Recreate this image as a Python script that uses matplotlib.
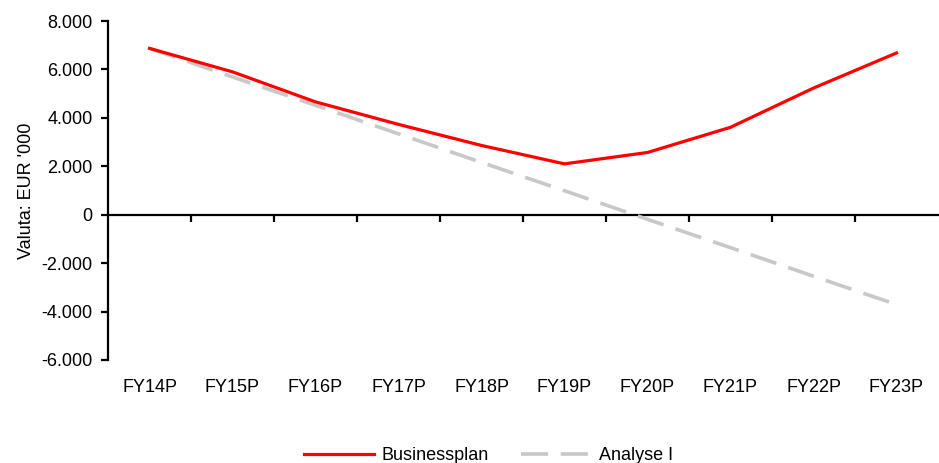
import numpy as np
import matplotlib.pyplot as plt
from matplotlib.ticker import FuncFormatter, FixedLocator

# Data (EUR '000)
years = ['FY14P', 'FY15P', 'FY16P', 'FY17P', 'FY18P',
         'FY19P', 'FY20P', 'FY21P', 'FY22P', 'FY23P']
businessplan = [6870, 5900, 4660, 3730, 2860, 2100, 2570, 3610, 5230, 6680]
analyse_1 = [6870, 5690, 4520, 3340, 2160, 990, -190, -1360, -2540, -3710]

plt.rcParams['font.family'] = ['Liberation Sans', 'DejaVu Sans']
FS = 13

fig = plt.figure(figsize=(9.39, 4.63), dpi=100)
ax = fig.add_axes([108/939, 1 - 360/463, 830/939, 339/463])

x = np.arange(len(years))
ax.plot(x, analyse_1, color='#c8c8c8', lw=2.6, dashes=(7.5, 3.5),
        label='Analyse I', solid_capstyle='butt')
ax.plot(x, businessplan, color='#ff0000', lw=2.3, label='Businessplan')

ax.set_xlim(-0.5, len(years) - 0.5)
ax.set_ylim(-6000, 8000)
ax.set_yticks(np.arange(-6000, 8001, 2000))
ax.yaxis.set_major_formatter(FuncFormatter(
  lambda v, p: f"{int(v):,}".replace(',', '.')))

for s in ['top', 'right', 'bottom']:
  ax.spines[s].set_visible(False)
ax.spines['left'].set_linewidth(1.6)
ax.tick_params(axis='y', direction='out', length=5, width=1.6,
               labelsize=FS, pad=6, colors='black')

# category labels at the bottom, no tick marks
ax.set_xticks(x)
ax.set_xticklabels(years)
ax.tick_params(axis='x', length=0, labelsize=FS, pad=14)

# zero line with tick marks between categories
zero = ax.secondary_xaxis(6000 / 14000)
zero.spines['bottom'].set_linewidth(1.6)
zero.xaxis.set_major_locator(FixedLocator(np.arange(0.5, len(years) - 1, 1.0)))
zero.tick_params(axis='x', direction='out', length=5, width=1.6, labelbottom=False)

ax.set_ylabel("Valuta: EUR '000", fontsize=FS, labelpad=5)

h, l = ax.get_legend_handles_labels()
fig.legend(h[::-1], l[::-1], loc='center', bbox_to_anchor=(0.52, 0.016),
           ncol=2, frameon=False, fontsize=FS, handlelength=3.9,
           columnspacing=1.8, handletextpad=0.4)

fig.savefig('out.png', dpi=100)
